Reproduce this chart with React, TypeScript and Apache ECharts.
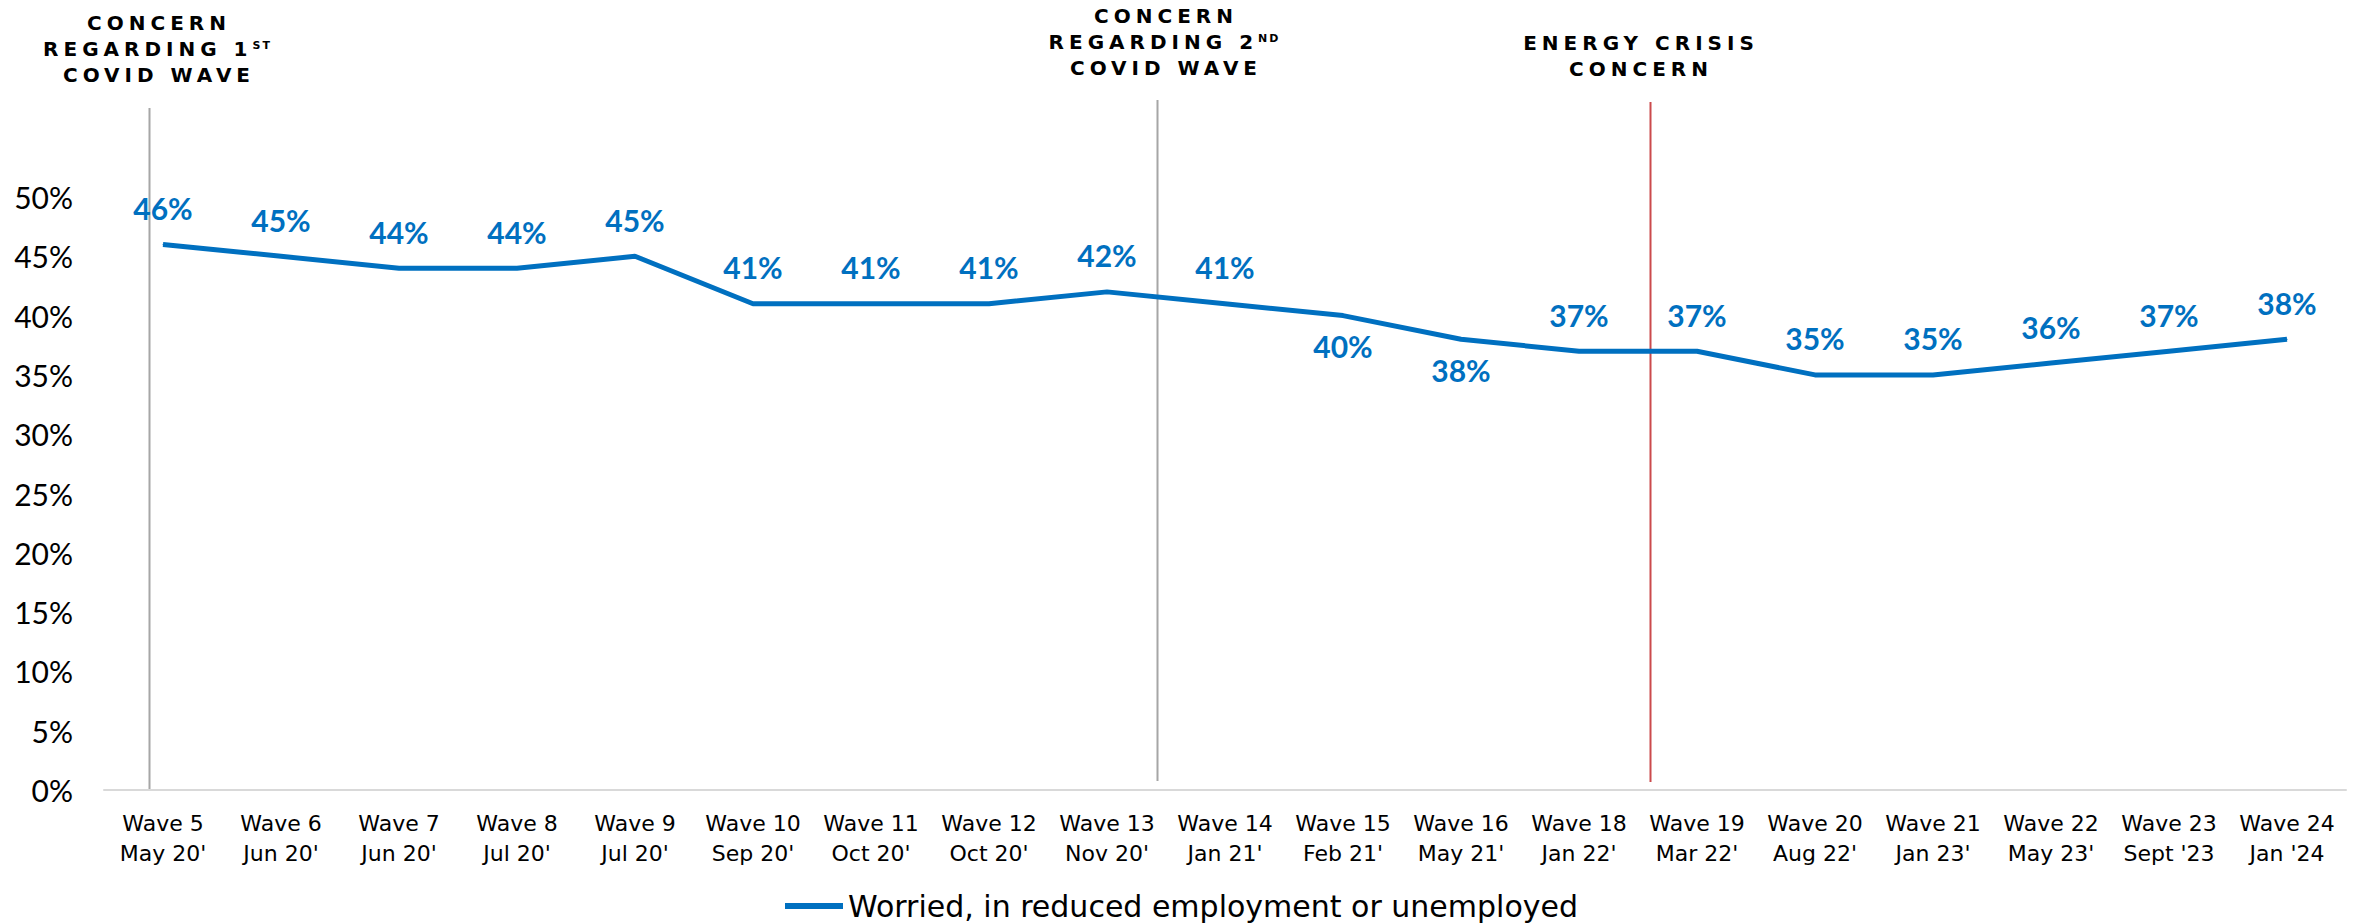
import React, { useEffect, useRef } from 'react';
import * as echarts from 'echarts';

const waves = ['Wave 5', 'Wave 6', 'Wave 7', 'Wave 8', 'Wave 9', 'Wave 10', 'Wave 11', 'Wave 12', 'Wave 13', 'Wave 14', 'Wave 15', 'Wave 16', 'Wave 18', 'Wave 19', 'Wave 20', 'Wave 21', 'Wave 22', 'Wave 23', 'Wave 24'];
const dates = ["May 20'", "Jun 20'", "Jun 20'", "Jul 20'", "Jul 20'", "Sep 20'", "Oct 20'", "Oct 20'", "Nov 20'", "Jan 21'", "Feb 21'", "May 21'", "Jan 22'", "Mar 22'", "Aug 22'", "Jan 23'", "May 23'", "Sept '23", "Jan '24"];
const worried = [46, 45, 44, 44, 45, 41, 41, 41, 42, 41, 40, 38, 37, 37, 35, 35, 36, 37, 38];
const labelsBelow = ['Wave 15', 'Wave 16'];
const seriesName = 'Worried, in reduced employment or unemployed';
const yMin = 0;
const yMax = 50;
const yStep = 5;

// annotation texts (each line: [main, superscript?])
const ann1Lines = [['CONCERN'], ['REGARDING 1', 'ST'], ['COVID WAVE']];
const ann2Lines = [['CONCERN'], ['REGARDING 2', 'ND'], ['COVID WAVE']];
const ann3Lines = [['ENERGY CRISIS'], ['CONCERN']];

const BLUE = '#0070C0';
const ANN_FONT = 'bold 20px "DejaVu Sans"';
const SUP_FONT = 'bold 11px "DejaVu Sans"';
const ANN_SP = 5;
const SUP_SP = 2;

const annotations = [
  { at: -0.12, color: '#A6A6A6', top: 108, bottomGap: 1, lines: ann1Lines, firstY: 22.5, dx: 7 },
  { at: 8.42, color: '#A6A6A6', top: 100, bottomGap: 9, lines: ann2Lines, firstY: 15.5, dx: 6 },
  { at: 12.6, color: '#CB4A4C', top: 102, bottomGap: 8, lines: ann3Lines, firstY: 42.5, dx: -12 },
];

export default function App() {
  const ref = useRef<HTMLDivElement>(null);
  useEffect(() => {
    const el = ref.current!;
    const chart = echarts.init(el, undefined, { renderer: 'svg' });
    const categories = waves.map((w, i) => `${w}\n${dates[i]}`);
    const data = worried.map((v, i) =>
      labelsBelow.includes(waves[i]) ? { value: v, label: { position: 'bottom', distance: 15 } } : v
    );
    chart.setOption({
      animation: false,
      backgroundColor: '#ffffff',
      grid: { left: 104, right: 25, top: 197, bottom: 134 },
      legend: {
        show: true,
        data: [seriesName],
        left: 780,
        top: 886,
        icon: 'rect',
        itemWidth: 58,
        itemHeight: 6,
        textStyle: { fontFamily: '"DejaVu Sans"', fontSize: 30, color: '#000' },
      },
      xAxis: {
        type: 'category',
        data: categories,
        boundaryGap: true,
        axisTick: { show: false },
        axisLine: { lineStyle: { color: '#D9D9D9', width: 2 } },
        axisLabel: { interval: 0, fontFamily: '"DejaVu Sans"', fontSize: 22, lineHeight: 30, color: '#000', margin: 18 },
      },
      yAxis: {
        type: 'value',
        min: yMin,
        max: yMax,
        interval: yStep,
        splitLine: { show: false },
        axisLine: { show: false },
        axisTick: { show: false },
        axisLabel: { formatter: '{value}%', fontFamily: 'Lato', fontSize: 30, color: '#000', margin: 31 },
      },
      series: [
        {
          type: 'line',
          name: seriesName,
          data,
          symbol: 'circle',
          symbolSize: 1,
          showSymbol: true,
          lineStyle: { width: 5, color: BLUE },
          itemStyle: { color: BLUE },
          label: {
            show: true,
            position: 'top',
            distance: 21,
            formatter: '{c}%',
            color: BLUE,
            fontFamily: 'Lato',
            fontWeight: 'bold',
            fontSize: 30,
          },
        },
      ],
    });

    const canvas = document.createElement('canvas');
    const ctx = canvas.getContext('2d')!;
    const measure = (t: string, font: string, sp: number) => {
      ctx.font = font;
      return ctx.measureText(t).width + sp * (t.length - 1);
    };

    const x0 = chart.convertToPixel({ xAxisIndex: 0 }, 0) as number;
    const x1 = chart.convertToPixel({ xAxisIndex: 0 }, 1) as number;
    const step = x1 - x0;
    const yBase = chart.convertToPixel({ yAxisIndex: 0 }, yMin) as number;

    const graphics: any[] = [];
    annotations.forEach((a) => {
      const x = Math.round(x0 + a.at * step) + 0.5;
      graphics.push({
        type: 'line',
        silent: true,
        shape: { x1: x, y1: a.top, x2: x, y2: yBase - a.bottomGap },
        style: { stroke: a.color, lineWidth: 2 },
      });
      const cx = x + a.dx;
      a.lines.forEach((ln, li) => {
        const cy = a.firstY + li * 26;
        const wMain = measure(ln[0], ANN_FONT, ANN_SP);
        const wSup = ln[1] ? measure(ln[1], SUP_FONT, SUP_SP) + ANN_SP : 0;
        const left = cx - (wMain + wSup) / 2;
        graphics.push({
          type: 'text',
          silent: true,
          x: left,
          y: cy,
          style: { text: ln[0], font: ANN_FONT, fill: '#000', textAlign: 'left', textVerticalAlign: 'middle', verticalAlign: 'middle' },
        });
        if (ln[1]) {
          graphics.push({
            type: 'text',
            silent: true,
            x: left + wMain + ANN_SP,
            y: cy - 3,
            style: { text: ln[1], font: SUP_FONT, fill: '#000', textAlign: 'left', textVerticalAlign: 'middle', verticalAlign: 'middle' },
          });
        }
      });
    });
    chart.setOption({ graphic: graphics });

    const spacing: Record<string, number> = {
      CONCERN: ANN_SP,
      'REGARDING 1': ANN_SP,
      'REGARDING 2': ANN_SP,
      'COVID WAVE': ANN_SP,
      'ENERGY CRISIS': ANN_SP,
      ST: SUP_SP,
      ND: SUP_SP,
    };
    const apply = () => {
      el.querySelectorAll('text').forEach((t) => {
        const s = spacing[t.textContent || ''];
        if (s != null) t.setAttribute('letter-spacing', String(s));
      });
    };
    apply();
    chart.on('finished', apply);
    const raf = requestAnimationFrame(apply);
    const tm = setTimeout(apply, 50);

    return () => {
      cancelAnimationFrame(raf);
      clearTimeout(tm);
      chart.dispose();
    };
  }, []);
  return (
    <div
      ref={ref}
      style={{ position: 'fixed', left: 0, top: 0, width: 2371, height: 924, background: '#fff' }}
    />
  );
}
